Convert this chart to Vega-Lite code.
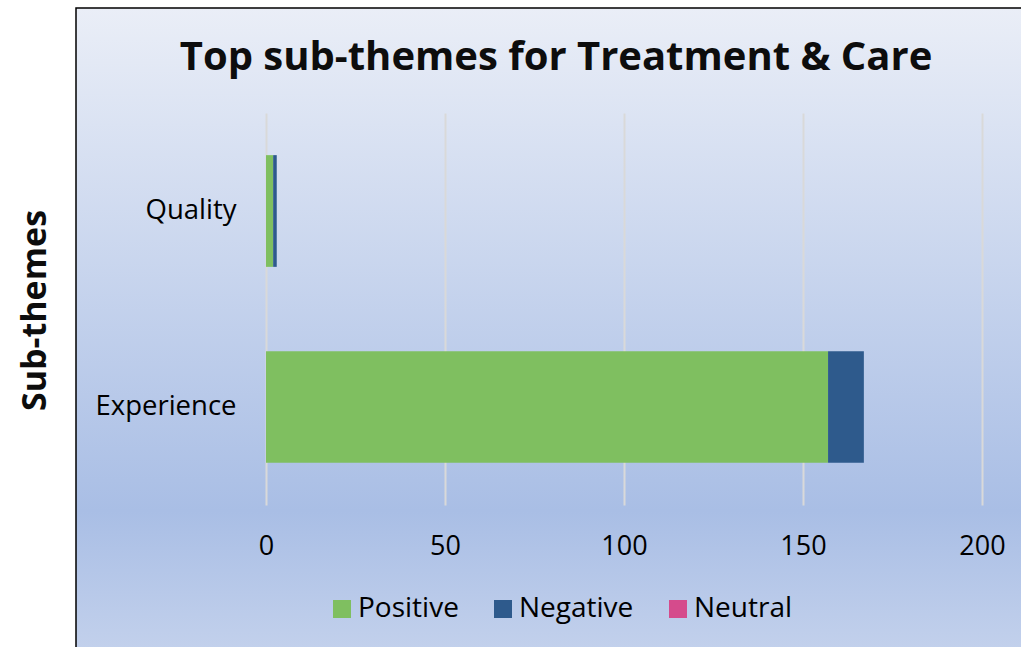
{
  "$schema": "https://vega.github.io/schema/vega-lite/v6.json",
  "width": 950,
  "height": 645,
  "autosize": {"type": "none"},
  "padding": {"left": 76, "top": 8, "right": 0, "bottom": 0},
  "background": "#ffffff",
  "view": {
    "fill": {"gradient": "linear", "x1": 0, "y1": 0, "x2": 0, "y2": 1,
      "stops": [
        {"offset": 0, "color": "#eaeef7"},
        {"offset": 0.78, "color": "#a9bee5"},
        {"offset": 1, "color": "#c3d1ec"}
      ]},
    "stroke": "#000000",
    "strokeWidth": 1.5
  },
  "title": {
    "text": "Top sub-themes for Treatment & Care",
    "font": "Open Sans",
    "fontSize": 40,
    "fontWeight": "bold",
    "color": "#0d0d0d",
    "anchor": "middle",
    "baseline": "alphabetic",
    "offset": -102,
    "dx": 5
  },
  "data": {
    "values": [
      {"SubTheme": "Quality", "Sentiment": "Positive", "Count": 2},
      {"SubTheme": "Quality", "Sentiment": "Negative", "Count": 1},
      {"SubTheme": "Quality", "Sentiment": "Neutral", "Count": 0},
      {"SubTheme": "Experience", "Sentiment": "Positive", "Count": 157},
      {"SubTheme": "Experience", "Sentiment": "Negative", "Count": 10},
      {"SubTheme": "Experience", "Sentiment": "Neutral", "Count": 0}
    ]
  },
  "mark": {"type": "bar"},
  "encoding": {
    "y": {
      "field": "SubTheme",
      "type": "nominal",
      "sort": ["Quality", "Experience"],
      "scale": {"range": [105, 497], "paddingInner": 0.43, "paddingOuter": 0.215},
      "axis": {
        "orient": "left",
        "offset": -160,
        "domain": false,
        "ticks": false,
        "grid": false,
        "labelPadding": 0,
        "labelFont": "Open Sans",
        "labelFontSize": 27.5,
        "labelColor": "#000000",
        "title": "Sub-themes",
        "titleFont": "Open Sans",
        "titleFontSize": 34,
        "titleFontWeight": "bold",
        "titleColor": "#0d0d0d",
        "titleX": -201,
        "titleY": 302,
        "titleAngle": -90,
        "titleBaseline": "middle",
        "titleAlign": "center"
      }
    },
    "x": {
      "field": "Count",
      "type": "quantitative",
      "stack": "zero",
      "scale": {"domain": [0, 200], "range": [190, 906], "nice": false, "zero": true},
      "axis": {
        "orient": "top",
        "values": [0, 50, 100, 150, 200],
        "offset": -538,
        "domain": false,
        "ticks": false,
        "labelPadding": 0,
        "labelBaseline": "middle",
        "labelFlush": false,
        "labelOverlap": false,
        "labelFont": "Open Sans",
        "labelFontSize": 27,
        "labelColor": "#000000",
        "grid": true,
        "gridColor": "#d9d9d9",
        "gridWidth": 2,
        "title": null
      }
    },
    "color": {
      "field": "Sentiment",
      "type": "nominal",
      "scale": {"domain": ["Positive", "Negative", "Neutral"], "range": ["#7fbf60", "#2e5a8c", "#d54b8c"]},
      "legend": {
        "orient": "none",
        "legendX": 252,
        "legendY": 587,
        "direction": "horizontal",
        "title": null,
        "symbolType": "square",
        "symbolSize": 324,
        "symbolStrokeWidth": 0,
        "labelFont": "Open Sans",
        "labelFontSize": 28,
        "labelColor": "#000000",
        "labelOffset": 2,
        "columnPadding": 30,
        "padding": 0
      }
    },
    "order": {"field": "Sentiment", "sort": "descending"}
  }
}
